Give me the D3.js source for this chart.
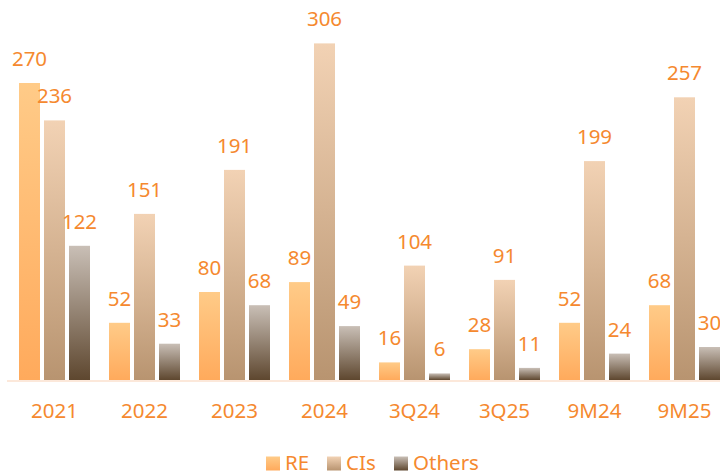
<!DOCTYPE html>
<html><head><meta charset="utf-8">
<script src="https://cdn.jsdelivr.net/npm/d3@7"></script>
<style>body{margin:0;background:#fff;} svg{display:block;font-family:"Noto Sans","Open Sans",sans-serif;}</style>
</head><body>
<svg id="c" width="720" height="475"></svg>
<script>
const categories = ["2021","2022","2023","2024","3Q24","3Q25","9M24","9M25"];
const seriesNames = ["RE","CIs","Others"];
const RE = [270,52,80,89,16,28,52,68];
const CIs = [236,151,191,306,104,91,199,257];
const Others = [122,33,68,49,6,11,24,30];
const seriesValues = [RE, CIs, Others];

const gradStops = [
  ["#FFCB88","#FFAA5C"],
  ["#F2D2B4","#B89470"],
  ["#C9BFB6","#5E472F"]
];
const txtColor = "#F5892F";
const fs = 20.5;

const svg = d3.select("#c");
const defs = svg.append("defs");
gradStops.forEach((s,i)=>{
  const g = defs.append("linearGradient").attr("id","g"+i).attr("x1",0).attr("y1",0).attr("x2",0).attr("y2",1);
  g.append("stop").attr("offset","0%").attr("stop-color",s[0]);
  g.append("stop").attr("offset","100%").attr("stop-color",s[1]);
});

const x0 = d3.scaleBand().domain(categories).range([9.5,729.5]).paddingInner(19/90).paddingOuter(9.5/90);
const x1 = d3.scaleBand().domain(seriesNames).range([0,x0.bandwidth()]).paddingInner(4/25).paddingOuter(0);
const y = d3.scaleLinear().domain([0,345.45]).range([380,0]);

svg.append("line").attr("x1",7).attr("x2",720).attr("y1",381).attr("y2",381)
  .attr("stroke","#FCE8DA").attr("stroke-width",2);

const groups = svg.selectAll("g.grp").data(categories).enter().append("g")
  .attr("transform",d=>`translate(${x0(d)},0)`);

seriesNames.forEach((s,si)=>{
  groups.append("rect")
    .attr("x",x1(s)).attr("width",x1.bandwidth())
    .attr("y",(d,i)=>y(seriesValues[si][i]))
    .attr("height",(d,i)=>y(0)-y(seriesValues[si][i]))
    .attr("fill",`url(#g${si})`);
  groups.append("text")
    .attr("x",x1(s)+x1.bandwidth()/2)
    .attr("y",(d,i)=>y(seriesValues[si][i])-17)
    .attr("text-anchor","middle").attr("font-size",fs).attr("fill",txtColor)
    .text((d,i)=>seriesValues[si][i]);
});

svg.selectAll("text.xl").data(categories).enter().append("text")
  .attr("x",d=>x0(d)+x0.bandwidth()/2).attr("y",418)
  .attr("text-anchor","middle").attr("font-size",fs).attr("fill",txtColor).text(d=>d);

const legX = [266,327,394];
seriesNames.forEach((s,i)=>{
  svg.append("rect").attr("x",legX[i]).attr("y",456.5).attr("width",14).attr("height",14).attr("fill",`url(#g${i})`);
  svg.append("text").attr("x",legX[i]+19).attr("y",469.5).attr("font-size",fs).attr("fill",txtColor).text(s);
});
</script>
</body></html>
